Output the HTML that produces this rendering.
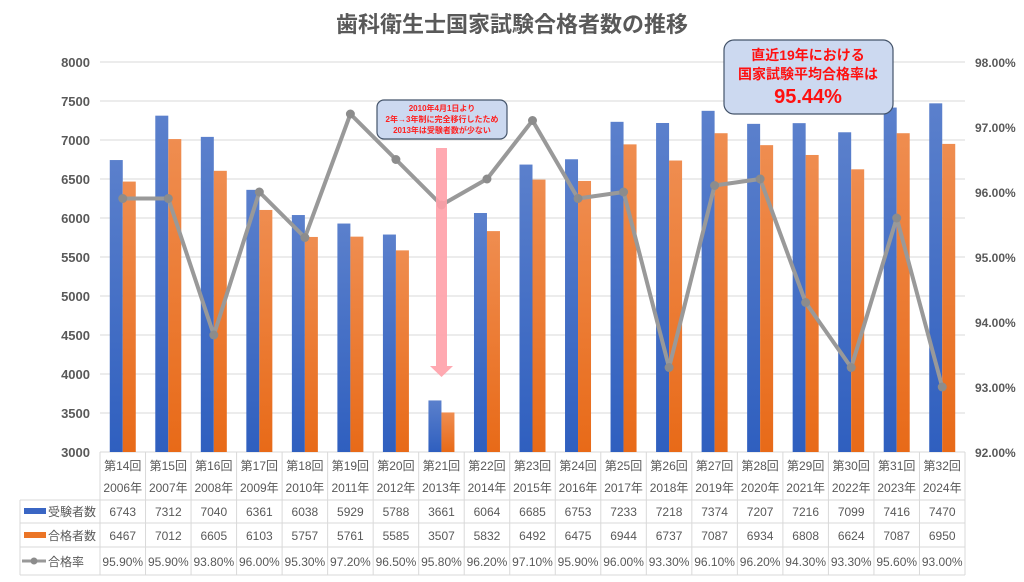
<!DOCTYPE html>
<html><head><meta charset="utf-8"><style>
body{margin:0;width:1024px;height:577px;background:#fff;overflow:hidden;font-family:"Liberation Sans","Noto Sans CJK JP",sans-serif}
svg text{font-family:"Liberation Sans","Noto Sans CJK JP",sans-serif}
</style></head><body>
<svg id="c" width="1024" height="577">
<defs>
<linearGradient id="gb" x1="0" y1="0" x2="0" y2="1"><stop offset="0" stop-color="#5b80cc"/><stop offset="1" stop-color="#2f5fbf"/></linearGradient>
<linearGradient id="go" x1="0" y1="0" x2="0" y2="1"><stop offset="0" stop-color="#ef8d50"/><stop offset="1" stop-color="#e86a18"/></linearGradient>
</defs>
<text x="512" y="32" text-anchor="middle" font-size="22" font-weight="bold" fill="#595959">歯科衛生士国家試験合格者数の推移</text>
<g id="grid"></g><g id="bars"></g><g id="line"></g><g id="axes"></g><g id="table"></g>
<g>
<rect x="377" y="100" width="130" height="39" rx="7" fill="#ccd9f0" stroke="#44546a" stroke-width="1.2"/>
<text x="442" y="111" text-anchor="middle" font-size="8" font-weight="bold" fill="#ff2020">2010年4月1日より</text>
<text x="442" y="122" text-anchor="middle" font-size="8" font-weight="bold" fill="#ff2020">2年→3年制に完全移行したため</text>
<text x="442" y="133" text-anchor="middle" font-size="8" font-weight="bold" fill="#ff2020">2013年は受験者数が少ない</text>
</g>
<polygon points="436,148 447,148 447,366 453,366 441.5,377 430,366 436,366" fill="#ffa0a8" opacity="0.9"/>
<g>
<rect x="724" y="40" width="169" height="74" rx="10" fill="#ccd9f0" stroke="#44546a" stroke-width="1.2"/>
<text x="808" y="60" text-anchor="middle" font-size="14" font-weight="bold" fill="#ff1010">直近19年における</text>
<text x="808" y="79" text-anchor="middle" font-size="14" font-weight="bold" fill="#ff1010">国家試験平均合格率は</text>
<text x="808" y="103" text-anchor="middle" font-size="20" font-weight="bold" fill="#ff1010">95.44%</text>
</g>
</svg>
<script>
const rounds=["第14回","第15回","第16回","第17回","第18回","第19回","第20回","第21回","第22回","第23回","第24回","第25回","第26回","第27回","第28回","第29回","第30回","第31回","第32回"];
const years=["2006年","2007年","2008年","2009年","2010年","2011年","2012年","2013年","2014年","2015年","2016年","2017年","2018年","2019年","2020年","2021年","2022年","2023年","2024年"];
const examinees=[6743,7312,7040,6361,6038,5929,5788,3661,6064,6685,6753,7233,7218,7374,7207,7216,7099,7416,7470];
const passers=[6467,7012,6605,6103,5757,5761,5585,3507,5832,6492,6475,6944,6737,7087,6934,6808,6624,7087,6950];
const rates=[95.9,95.9,93.8,96.0,95.3,97.2,96.5,95.8,96.2,97.1,95.9,96.0,93.3,96.1,96.2,94.3,93.3,95.6,93.0];
const leftTicks=[3000,3500,4000,4500,5000,5500,6000,6500,7000,7500,8000];
const rightTicks=[92,93,94,95,96,97,98];
const NS="http://www.w3.org/2000/svg";
const X0=100,X1=965,Y0=452,Y1=62,n=rounds.length,bw=(X1-X0)/n;
const yL=v=>Y0-(v-3000)/5000*(Y0-Y1);
const yR=v=>Y0-(v-92)/6*(Y0-Y1);
const cx=i=>X0+bw*(i+0.5);
function mk(t,a,p){const e=document.createElementNS(NS,t);for(const k in a)e.setAttribute(k,a[k]);p.appendChild(e);return e;}
const G=id=>document.getElementById(id);
leftTicks.forEach(v=>{
 const l=mk('line',{x1:X0,x2:X1,y1:yL(v),y2:yL(v),stroke:'#d9d9d9','stroke-width':1},G('grid'));
 
 
 const t=mk('text',{x:90,y:yL(v)+5,'text-anchor':'end','font-size':13,'font-weight':'bold',fill:'#595959'},G('axes'));
 t.textContent=v;
 
 
});
rightTicks.forEach(v=>{
 const t=mk('text',{x:975,y:yR(v)+5,'font-size':12,'font-weight':'bold',fill:'#595959'},G('axes'));
 t.textContent=v.toFixed(2)+'%';
 
 
});
for(let i=0;i<n;i++){
 const b=mk('rect',{x:cx(i)-13,y:yL(examinees[i]),width:13,height:Y0-yL(examinees[i]),fill:'url(#gb)'},G('bars'));
 
 
 const o=mk('rect',{x:cx(i),y:yL(passers[i]),width:13,height:Y0-yL(passers[i]),fill:'url(#go)'},G('bars'));
 
 
}
const pl=mk('polyline',{points:rates.map((r,i)=>cx(i)+','+yR(r)).join(' '),fill:'none',stroke:'#999','stroke-width':4,'stroke-linejoin':'round'},G('line'));


rates.forEach((r,i)=>{
 const c=mk('circle',{cx:cx(i),cy:yR(r),r:4.5,fill:'#8c8c8c'},G('line'));
 
 
});
// table
const T=G('table');
const rows=[452,500,523,547,575];
const gl={stroke:'#d9d9d9','stroke-width':1};
[500,523,547,575].forEach(y=>mk('line',Object.assign({x1:20,x2:X1,y1:y,y2:y},gl),T));
mk('line',Object.assign({x1:20,x2:20,y1:500,y2:575},gl),T);
for(let i=0;i<=n;i++)mk('line',Object.assign({x1:X0+bw*i,x2:X0+bw*i,y1:452,y2:575},gl),T);
function txt(x,y,s,name,sz){const t=mk('text',{x:x,y:y,'text-anchor':'middle','font-size':sz||12,fill:'#595959'},T);t.textContent=s;}
for(let i=0;i<n;i++){
 txt(cx(i),470,rounds[i],'category-round');
 txt(cx(i),492,years[i],'category-year');
 txt(cx(i),516,examinees[i],'table-examinees');
 txt(cx(i),540,passers[i],'table-passers');
 txt(cx(i),566,rates[i].toFixed(2)+'%','table-rate');
}
mk('rect',{x:24,y:508,width:22,height:6,fill:'#3a66c4'},T);
mk('rect',{x:24,y:532,width:22,height:6,fill:'#eb7526'},T);
mk('line',{x1:22,x2:46,y1:561,y2:561,stroke:'#999','stroke-width':3},T);
mk('circle',{cx:34,cy:561,r:3.5,fill:'#8c8c8c'},T);
[['受験者数',516,'legend-examinees'],['合格者数',540,'legend-passers'],['合格率',566,'legend-rate']].forEach(a=>{const t=mk('text',{x:48,y:a[1],'font-size':12,fill:'#595959'},T);t.textContent=a[0];});
</script>
</body></html>
